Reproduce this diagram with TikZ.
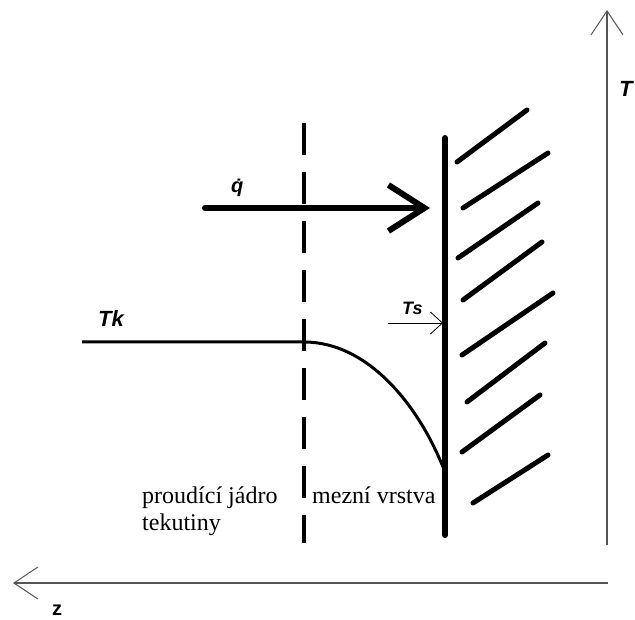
\documentclass[tikz,border=0pt]{standalone}
\usepackage{fontspec}
\setmainfont{Liberation Serif}
\setsansfont{Liberation Sans}
\definecolor{AxisGray}{RGB}{85,85,85}
\usetikzlibrary{arrows.meta}

\begin{document}
\begin{tikzpicture}[x=1pt,y=-1pt,
  axis/.style={draw=AxisGray,line width=1.2pt,
               -{Straight Barb[length=24pt,width=32pt,line width=1pt]}},
  lbl/.style={font=\sffamily\bfseries\itshape\fontsize{22}{24}\selectfont,
              inner sep=0pt,anchor=base west},
  txt/.style={font=\fontsize{24}{27}\selectfont,inner sep=0pt,
              anchor=base west,align=left},
  hatch/.style={line width=5pt,line cap=round}]
  \useasboundingbox (0,0) rectangle (635,620);
  % axes
  \coordinate (Tbot) at (607,545);
  \coordinate (Ttop) at (607,10);
  \coordinate (zright) at (608,583);
  \coordinate (zleft) at (13,583);
  \draw[axis] (Tbot) -- (Ttop);
  \draw[axis] (zright) -- (zleft);
  \node[lbl] (T) at (619,97) {T};
  \node[lbl,font=\sffamily\bfseries\fontsize{20}{22}\selectfont] (z) at (52,615) {z};
  % boundary between core and layer
  \coordinate (dtop) at (304,123);
  \coordinate (dbot) at (304,543);
  \draw[line width=4pt,dash pattern=on 32pt off 17pt] (dtop) -- (dbot);
  % wall with hatching
  \coordinate (wtop) at (445,138);
  \coordinate (wbot) at (445,535);
  \draw[line width=6pt,line cap=round] (wtop) -- (wbot);
  \foreach \xa/\ya/\xb/\yb in {457/162/527/110, 463/208/548/153,
      458/258/538/203, 463/300/542/242, 462/355/553/293,
      467/402/545/343, 462/452/540/395, 473/503/548/455}
    \draw[hatch] (\xa,\ya) -- (\xb,\yb);
  % heat flux
  \coordinate (qa) at (205,208);
  \coordinate (qb) at (430,208);
  \draw[line width=6pt,line cap=round,
        -{Straight Barb[length=36pt,width=46pt]}] (qa) -- (qb);
  \node[lbl,font=\sffamily\bfseries\itshape\fontsize{20}{22}\selectfont]
       (q) at (231,193) {\.{q}};
  % temperature profile
  \coordinate (Tka) at (82,342);
  \coordinate (Tkb) at (304,342);
  \coordinate (Tsw) at (443,467);
  \draw[line width=3pt] (Tka) -- (Tkb)
       .. controls (368,342) and (418,405) .. (Tsw);
  \node[lbl] (Tk) at (98,327) {Tk};
  % wall temperature
  \coordinate (Tsa) at (388,323);
  \coordinate (Tsb) at (443,323);
  \draw[line width=0.8pt,-{Straight Barb[length=12pt,width=22pt]}] (Tsa) -- (Tsb);
  \node[lbl,font=\sffamily\bfseries\itshape\fontsize{18}{20}\selectfont]
       (Ts) at (402,315) {Ts};
  % region names
  \node[txt] (core) at (142,530) {proudící jádro\\tekutiny};
  \node[txt] (layer) at (312,503) {mezní vrstva};
\end{tikzpicture}
\end{document}
